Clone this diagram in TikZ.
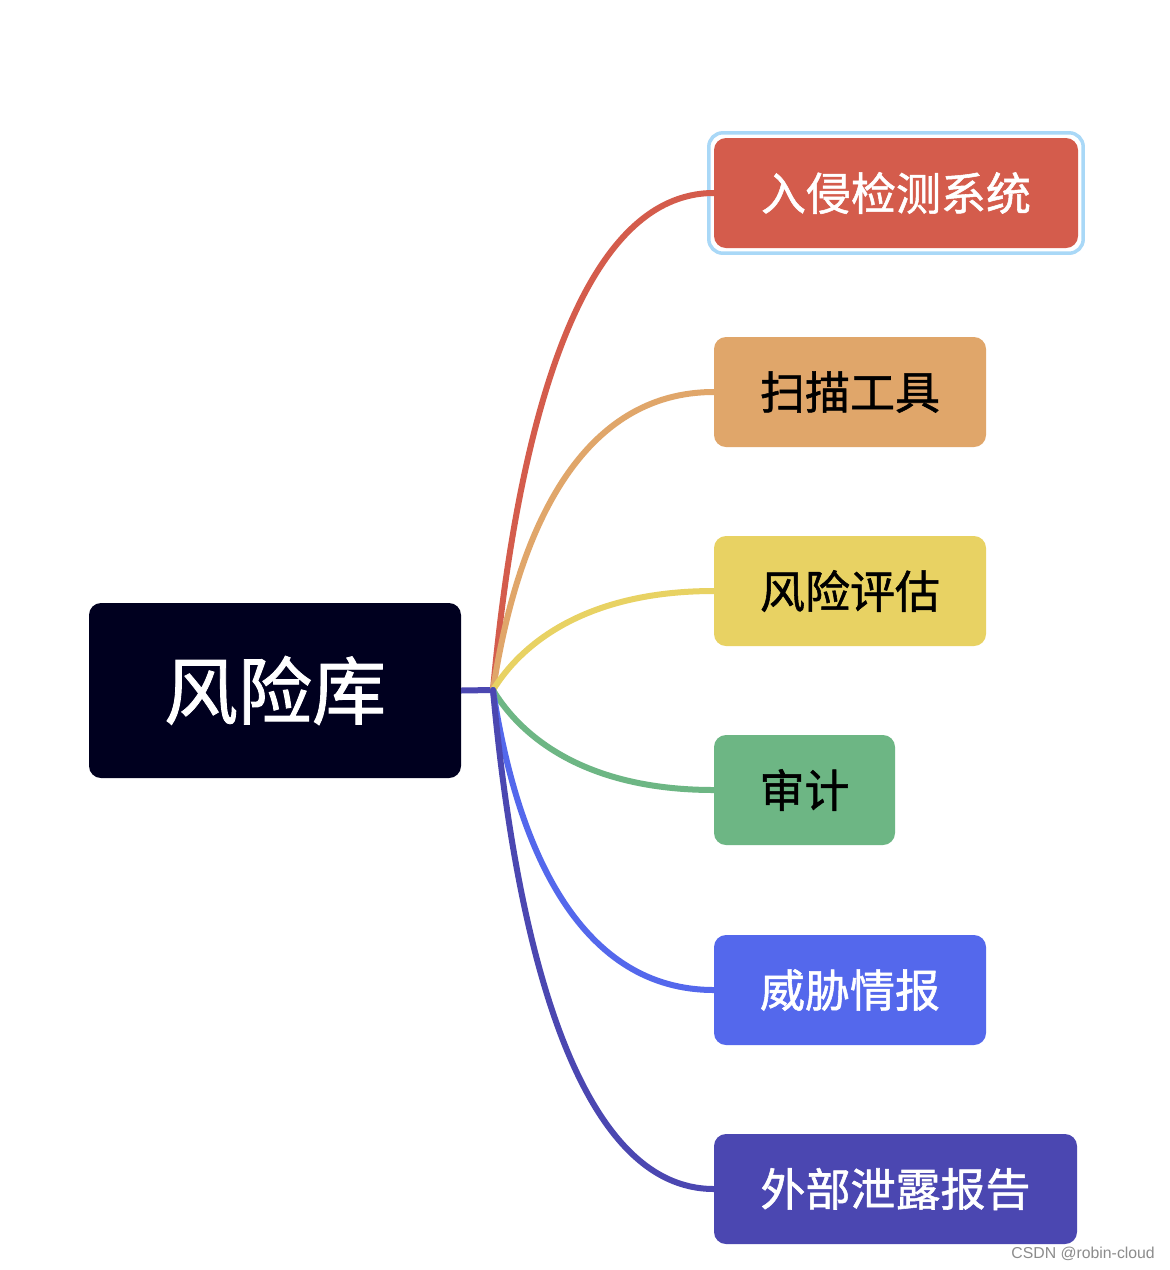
\documentclass[tikz,border=0pt]{standalone}
\usepackage{fontspec}
\newfontfamily\cjk[FakeBold=1.2]{Noto Sans CJK SC}
\newfontfamily\wm{Liberation Sans}
\usetikzlibrary{fit}
\definecolor{rootc}{HTML}{00001F}
\definecolor{redc}{HTML}{D45C4C}
\definecolor{orangec}{HTML}{E0A66A}
\definecolor{yellowc}{HTML}{E8D263}
\definecolor{greenc}{HTML}{6DB684}
\definecolor{bluec}{HTML}{5468EC}
\definecolor{indigoc}{HTML}{4B47B1}
\definecolor{selc}{HTML}{A9D8F7}
\tikzset{
  box/.style={rounded corners=12pt, inner sep=0pt, minimum height=110pt, font=\cjk\fontsize{45}{50}\selectfont},
  link/.style={line width=6pt, line cap=round},
}
\begin{document}
\begin{tikzpicture}[x=1pt,y=-1pt]
\useasboundingbox[fill=white] (0,0) rectangle (1170,1270);
\node[box, fill=rootc, text=white, minimum width=372pt, minimum height=175pt, font=\cjk\fontsize{74}{80}\selectfont] (root) at (275,690.5) {风险库};
\coordinate (j) at (493,690);
\node[box, fill=redc, text=white, minimum width=364pt] (n1) at (896,193) {入侵检测系统};
\node[fit=(n1), inner sep=5pt, draw=selc, line width=3.5pt, rounded corners=14pt] (sel) {};
\node[box, fill=orangec, text=black, minimum width=272pt] (n2) at (850,392) {扫描工具};
\node[box, fill=yellowc, text=black, minimum width=272pt] (n3) at (850,591) {风险评估};
\node[box, fill=greenc, text=black, minimum width=181pt] (n4) at (804.5,790) {审计};
\node[box, fill=bluec, text=white, minimum width=272pt] (n5) at (850,990) {威胁情报};
\node[box, fill=indigoc, text=white, minimum width=363pt] (n6) at (895.5,1189) {外部泄露报告};
\draw[link, indigoc, line cap=butt] (root.east) -- (j);
\draw[link, redc] (j) .. controls (518,417) and (583,193) .. (n1.west);
\draw[link, orangec] (j) .. controls (518,526) and (583,392) .. (n2.west);
\draw[link, yellowc] (j) .. controls (520,646) and (583,591) .. (n3.west);
\draw[link, greenc] (j) .. controls (520,735) and (583,790) .. (n4.west);
\draw[link, bluec] (j) .. controls (518,855) and (583,990) .. (n5.west);
\draw[link, indigoc] (j) .. controls (518,964) and (583,1189) .. (n6.west);
\node[text=black!45, font=\wm\fontsize{15.8}{18}\selectfont, anchor=east, inner sep=0pt] (wm) at (1155,1254) {CSDN @robin-cloud};
\end{tikzpicture}
\end{document}
